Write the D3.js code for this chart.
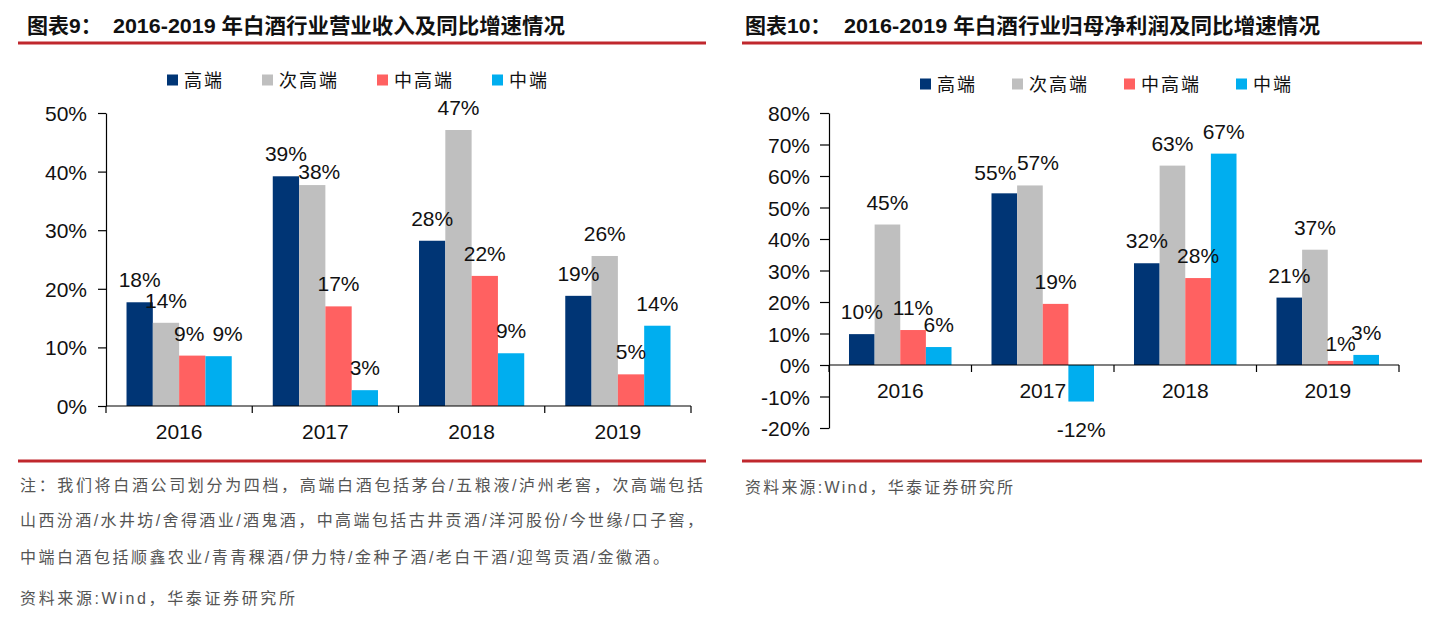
<!DOCTYPE html>
<html><head><meta charset="utf-8">
<script src="https://cdn.jsdelivr.net/npm/d3@7/dist/d3.min.js"></script>
<style>
body{margin:0;background:#fff;}
svg{display:block;}
.num{font-family:"Liberation Sans",Arial,sans-serif;font-size:21px;fill:#111;}
.cjk{font-family:"Noto Sans CJK SC",sans-serif;}
</style></head>
<body>
<svg id="c" width="1436" height="626"></svg>
<script>
// ---------- data ----------
const years = ["2016", "2017", "2018", "2019"];
const seriesNames = ["高端", "次高端", "中高端", "中端"];
const seriesColors = ["#003575", "#bfbfbf", "#ff6161", "#00aeef"];

// 图表9 营业收入同比增速
const revHigh    = [0.177, 0.392, 0.282, 0.188];
const revSubHigh = [0.142, 0.377, 0.471, 0.256];
const revMidHigh = [0.086, 0.170, 0.222, 0.054];
const revMid     = [0.085, 0.027, 0.090, 0.137];
const revTicks   = [0, 0.1, 0.2, 0.3, 0.4, 0.5];

// 图表10 归母净利润同比增速
const profHigh    = [0.098, 0.545, 0.323, 0.214];
const profSubHigh = [0.446, 0.570, 0.633, 0.366];
const profMidHigh = [0.111, 0.194, 0.276, 0.013];
const profMid     = [0.057, -0.116, 0.671, 0.032];
const profTicks   = [-0.2, -0.1, 0, 0.1, 0.2, 0.3, 0.4, 0.5, 0.6, 0.7, 0.8];

const title9  = ["图表9：", "2016-2019 年白酒行业营业收入及同比增速情况"];
const title10 = ["图表10：", "2016-2019 年白酒行业归母净利润及同比增速情况"];
const notes9 = [
  "注：我们将白酒公司划分为四档，高端白酒包括茅台/五粮液/泸州老窖，次高端包括",
  "山西汾酒/水井坊/舍得酒业/酒鬼酒，中高端包括古井贡酒/洋河股份/今世缘/口子窖，",
  "中端白酒包括顺鑫农业/青青稞酒/伊力特/金种子酒/老白干酒/迎驾贡酒/金徽酒。",
  "资料来源:Wind，华泰证券研究所"
];
const notes10 = ["资料来源:Wind，华泰证券研究所"];

const svg = d3.select("#c");
const locale = d3.formatLocale({decimal: ".", thousands: ",", grouping: [3], currency: ["", ""], minus: "-"});
const fmt = locale.format(".0%");

function drawChart(o) {
  const g = svg.append("g");
  const series = [o.s0, o.s1, o.s2, o.s3];
  const x0 = d3.scaleBand().domain(years).range([o.x0, o.x1]).padding(0);
  const x1 = d3.scaleBand().domain(d3.range(4)).range([0, x0.bandwidth()]).paddingInner(0).paddingOuter(0.78);
  const y = d3.scaleLinear().domain(o.domain).range([o.yBottom, o.yTop]);

  // title
  const t = g.append("text").attr("y", 33).attr("font-weight", "bold").attr("font-size", 21)
    .attr("font-family", "'Liberation Sans','Noto Sans CJK SC',sans-serif").attr("fill", "#111");
  t.append("tspan").attr("x", o.titleX).text(o.title[0]);
  t.append("tspan").attr("x", o.titleX2).attr("textLength", o.titleLen).attr("lengthAdjust", "spacingAndGlyphs").text(o.title[1]);
  g.append("line").attr("x1", o.ruleX0).attr("x2", o.ruleX1).attr("y1", 43).attr("y2", 43)
    .attr("stroke", "#c0272d").attr("stroke-width", 3);
  g.append("line").attr("x1", o.ruleX0).attr("x2", o.ruleX1).attr("y1", 461).attr("y2", 461)
    .attr("stroke", "#c0272d").attr("stroke-width", 3);

  // legend
  let lx = o.legX;
  seriesNames.forEach((n, i) => {
    g.append("rect").attr("x", lx).attr("y", o.legY - 5.5).attr("width", 11).attr("height", 11)
      .attr("fill", seriesColors[i]);
    const tx = g.append("text").attr("class", "cjk").attr("x", lx + 17).attr("y", o.legY + 6.5)
      .attr("font-size", 18).attr("letter-spacing", 2).attr("fill", "#111").text(n);
    lx += 17 + tx.node().getComputedTextLength() + o.legGap;
  });

  // bars
  years.forEach((yr, ci) => {
    series.forEach((s, si) => {
      const v = s[ci];
      g.append("rect")
        .attr("x", x0(yr) + x1(si)).attr("width", x1.bandwidth())
        .attr("y", y(Math.max(0, v))).attr("height", Math.abs(y(v) - y(0)))
        .attr("fill", seriesColors[si]);
    });
  });
  // labels
  years.forEach((yr, ci) => {
    series.forEach((s, si) => {
      const v = s[ci];
      const off = (o.labelOffsets[ci + "-" + si]) || [0, 0];
      const cx = x0(yr) + x1(si) + x1.bandwidth() / 2 + off[0];
      const ly = v >= 0 ? y(v) - 15 : y(v) + 35;
      g.append("text").attr("class", "num").attr("text-anchor", "middle")
        .attr("x", cx).attr("y", ly + off[1]).text(fmt(v));
    });
  });

  // y axis
  const ya = g.append("g").attr("transform", `translate(${o.x0},0)`)
    .call(d3.axisLeft(y).tickValues(o.ticks).tickFormat(fmt).tickSize(o.tickSize).tickSizeOuter(0).tickPadding(o.tickPad));
  ya.selectAll("path,line").attr("stroke", "#000").attr("stroke-width", 1.2);
  ya.selectAll("text").attr("class", "num").attr("font-size", null).attr("font-family", null).attr("dy", "0.36em");

  // x axis
  const y0 = y(0);
  g.append("line").attr("x1", o.x0).attr("x2", o.x1).attr("y1", y0).attr("y2", y0)
    .attr("stroke", "#000").attr("stroke-width", 1.2);
  const bounds = years.map(d => x0(d)).concat([o.x1]);
  g.selectAll(null).data(bounds).enter().append("line")
    .attr("x1", d => d).attr("x2", d => d).attr("y1", y0).attr("y2", y0 + 7)
    .attr("stroke", "#000").attr("stroke-width", 1.2);
  g.selectAll(null).data(years).enter().append("text").attr("class", "num")
    .attr("text-anchor", "middle").attr("x", d => x0(d) + x0.bandwidth() / 2)
    .attr("y", o.catY).text(d => d);

  // notes
  o.notes.forEach((n, i) => {
    const nt = g.append("text").attr("x", o.noteX).attr("y", o.noteY[i])
      .attr("font-family", "'Liberation Sans','Noto Sans CJK SC',sans-serif").attr("font-size", 16)
      .attr("fill", "#555").text(n);
    if (o.noteLen[i]) nt.attr("textLength", o.noteLen[i]).attr("lengthAdjust", "spacing");
  });
}

drawChart({
  s0: revHigh, s1: revSubHigh, s2: revMidHigh, s3: revMid,
  x0: 106, x1: 691, domain: [0, 0.5], yBottom: 406, yTop: 113, ticks: revTicks,
  tickSize: 8, tickPad: 11, catY: 439,
  title: title9, titleX: 27, titleX2: 113, titleLen: 452, ruleX0: 18, ruleX1: 706,
  legX: 167, legY: 80, legGap: 38,
  labelOffsets: {"1-1": [7, 9], "0-2": [-3, 0], "0-3": [9, 0]},
  notes: notes9, noteX: 20, noteY: [491, 526, 563, 604], noteLen: [683, 683, 649, 275]
});
drawChart({
  s0: profHigh, s1: profSubHigh, s2: profMidHigh, s3: profMid,
  x0: 829, x1: 1399, domain: [-0.2, 0.8], yBottom: 428, yTop: 113, ticks: profTicks,
  tickSize: 9, tickPad: 10, catY: 398,
  title: title10, titleX: 745, titleX2: 844, titleLen: 476, ruleX0: 742, ruleX1: 1422,
  legX: 920, legY: 84, legGap: 35,
  labelOffsets: {"1-0": [-9, 2], "1-1": [8, 0], "3-2": [0, 5]},
  notes: notes10, noteX: 745, noteY: [493], noteLen: [268]
});
</script>
</body></html>
